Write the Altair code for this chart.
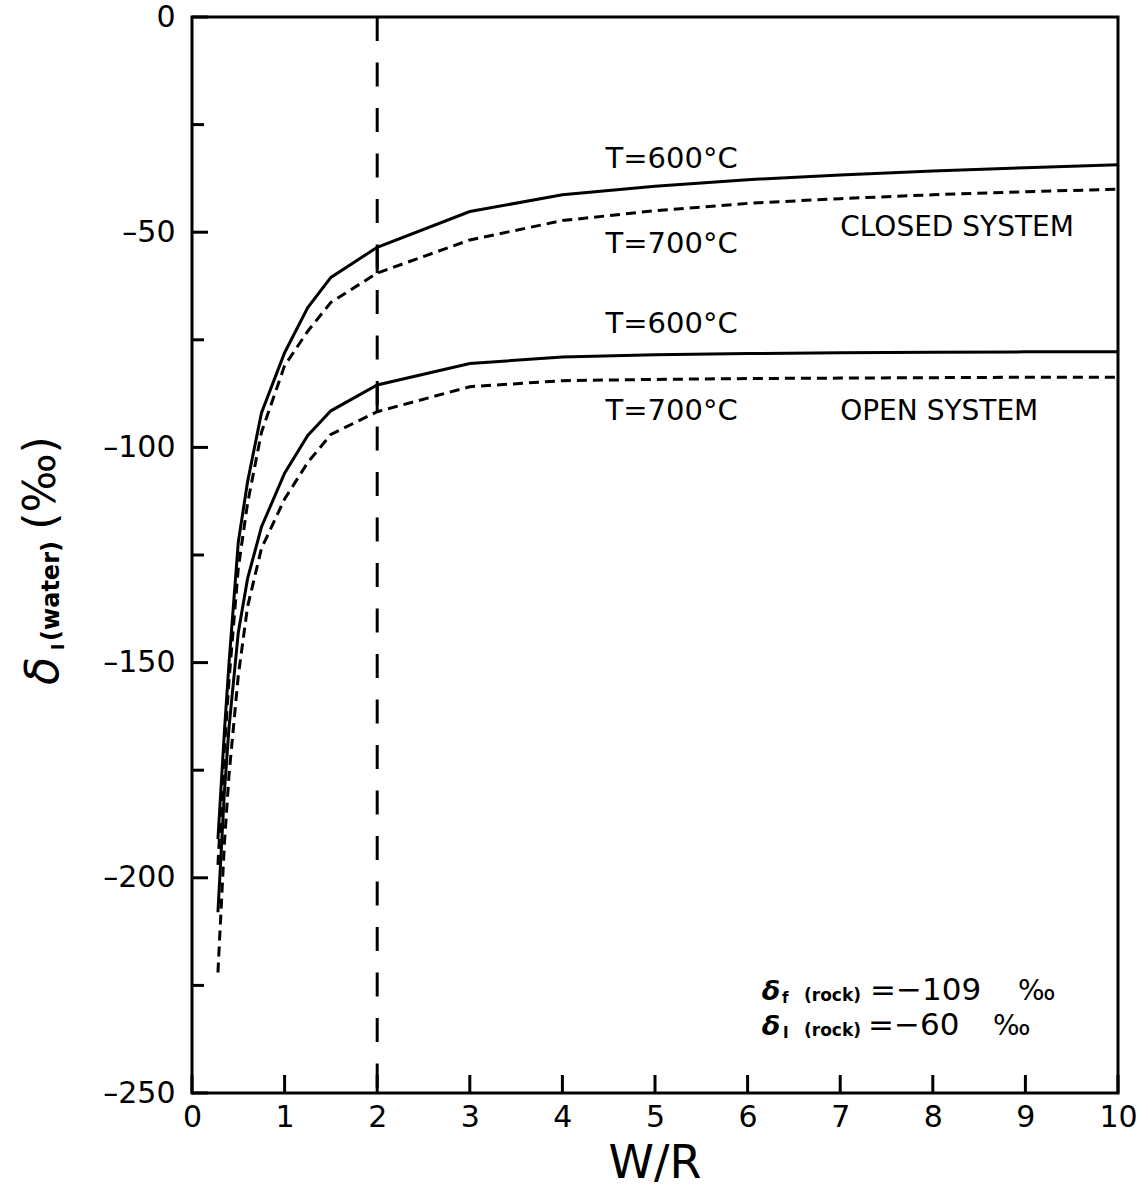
import altair as alt
import pandas as pd

# ---- data ----
wr = [0.28, 0.35, 0.4, 0.5, 0.6, 0.75, 1.0, 1.25, 1.5, 2, 3, 4, 5, 6, 7, 8, 9, 10]
closed_600 = [-191, -166, -150, -122, -108, -92, -78, -67.5, -60.5, -53.5, -45.2, -41.3, -39.3, -37.8, -36.7, -35.8, -35.0, -34.3]
closed_700 = [-197, -170, -154, -128, -113, -96.5, -81, -73, -66.3, -59.5, -51.8, -47.3, -45.0, -43.3, -42.2, -41.3, -40.6, -40.0]
open_600 = [-208, -180, -165, -143, -130.5, -118.5, -106, -97.2, -91.5, -85.5, -80.5, -79.0, -78.5, -78.2, -78.0, -77.9, -77.8, -77.8]
open_700 = [-222, -192, -176, -153, -137, -123.5, -112, -103.5, -97, -91.7, -85.9, -84.5, -84.2, -84.0, -83.9, -83.8, -83.7, -83.7]

x_ticks = [0, 1, 2, 3, 4, 5, 6, 7, 8, 9, 10]
y_major = [0, -50, -100, -150, -200, -250]
y_minor = [-25, -75, -125, -175, -225]
marker_wr = 2

temp_labels = ["T=600°C", "T=700°C", "T=600°C", "T=700°C"]
temp_label_x = [5.18, 5.18, 5.18, 5.18]
temp_label_y = [-33.0, -52.7, -71.3, -91.5]
system_labels = ["CLOSED  SYSTEM", "OPEN  SYSTEM"]
system_label_x = [7.0, 7.0]
system_label_y = [-49.0, -91.8]

FONT = "DejaVu Sans"
W, H = 926, 1076

rows = []
for name, vals in [("closed600", closed_600), ("closed700", closed_700),
                   ("open600", open_600), ("open700", open_700)]:
    for x, y in zip(wr, vals):
        rows.append({"series": name, "wr": x, "d": y})
df = pd.DataFrame(rows)

xs = alt.Scale(domain=[0, 10], nice=False, zero=False)
ys = alt.Scale(domain=[-250, 0], nice=False, zero=False)

xaxis = alt.Axis(values=x_ticks, ticks=False, tickSize=0, domain=False, grid=False,
                 labelFont=FONT, labelFontSize=30, labelColor="black", labelPadding=9,
                 labelFlush=False, labelOverlap=False, labelBound=False, title=None)
yaxis = alt.Axis(values=y_major, ticks=False, tickSize=0, domain=False, grid=False,
                 labelFont=FONT, labelFontSize=30, labelColor="black", labelPadding=17,
                 labelFlush=False, labelOverlap=False, labelBound=False, title=None,
                 labelExpr="replace(datum.label, '\u2212', '\u2013')")

X = alt.X("wr:Q", scale=xs, axis=xaxis)
Y = alt.Y("d:Q", scale=ys, axis=yaxis)

base = alt.Chart(df)
solid = base.transform_filter("indexof(datum.series, '600') >= 0").mark_line(
    color="black", strokeWidth=3).encode(x=X, y=Y, detail="series:N")
dashed = base.transform_filter("indexof(datum.series, '700') >= 0").mark_line(
    color="black", strokeWidth=3, strokeDash=[10, 6]).encode(x=X, y=Y, detail="series:N")

# vertical dashed marker at W/R = 2
vline = alt.Chart(pd.DataFrame({"wr": [marker_wr]})).mark_rule(
    color="black", strokeWidth=3, strokeDash=[24, 21.5]).encode(x=X)

# short connectors between curves at W/R = 2
i2 = wr.index(marker_wr)
conn_df = pd.DataFrame({"wr": [marker_wr, marker_wr],
                        "d": [closed_600[i2], open_600[i2]],
                        "d2": [closed_700[i2], open_700[i2]]})
conn = alt.Chart(conn_df).mark_rule(color="black", strokeWidth=3).encode(
    x=X, y=Y, y2="d2:Q")

# inward ticks
ymaj = alt.Chart(pd.DataFrame({"d": y_major})).mark_rule(color="black", strokeWidth=3).encode(
    y=Y, x=alt.value(0), x2=alt.value(16))
ymin = alt.Chart(pd.DataFrame({"d": y_minor})).mark_rule(color="black", strokeWidth=3).encode(
    y=Y, x=alt.value(0), x2=alt.value(12))
xt = alt.Chart(pd.DataFrame({"wr": x_ticks})).mark_rule(color="black", strokeWidth=3).encode(
    x=X, y=alt.value(H), y2=alt.value(H - 18))

# curve labels
tl = alt.Chart(pd.DataFrame({"wr": temp_label_x, "d": temp_label_y, "t": temp_labels})).mark_text(
    font=FONT, fontSize=29, color="black", align="center", baseline="middle").encode(
    x=X, y=Y, text="t:N")
sl = alt.Chart(pd.DataFrame({"wr": system_label_x, "d": system_label_y, "t": system_labels})).mark_text(
    font=FONT, fontSize=28, color="black", align="left", baseline="middle").encode(
    x=X, y=Y, text="t:N")


def txt(s, x, y, size, weight="normal", align="left", baseline="alphabetic", angle=0, style="normal"):
    return alt.Chart(pd.DataFrame({"t": [s]})).mark_text(
        font=FONT, fontSize=size, fontWeight=weight, fontStyle=style, color="black",
        align=align, baseline=baseline, angle=angle).encode(
        x=alt.value(x), y=alt.value(y), text="t:N")


# y-axis title pieces (rotated)
ytitle = [
    txt("(‰)", -150, 466, 44, align="center", baseline="middle", angle=270),
    txt("(water)", -140, 574, 24, weight="bold", align="center", baseline="middle", angle=270),
    txt("I", -133, 630, 18, weight="bold", align="center", baseline="middle", angle=270),
    txt("δ", -148, 654, 46, style="italic", align="center", baseline="middle", angle=270),
]
# x-axis title
xtitle = [txt("W/R", 463, 1161, 46, align="center")]

# bottom-right annotation
note = [
    txt("δ", 579, 983, 27, weight="bold", style="italic", align="center"),
    txt("f", 590, 986, 15, weight="bold"),
    txt("(rock)", 612, 984, 17, weight="bold"),
    txt("=\u2212109", 678, 983, 31),
    txt("‰", 826, 983, 28),
    txt("δ", 579, 1018, 27, weight="bold", style="italic", align="center"),
    txt("I", 591, 1021, 15, weight="bold"),
    txt("(rock)", 612, 1019, 17, weight="bold"),
    txt("=\u221260", 676, 1018, 31),
    txt("‰", 801, 1018, 28),
]

chart = alt.layer(
    vline, conn, solid, dashed, ymaj, ymin, xt, tl, sl, *ytitle, *xtitle, *note
).properties(
    width=W, height=H,
    autosize=alt.AutoSizeParams(type="none"),
    padding={"left": 192, "top": 17, "right": 30, "bottom": 97},
    background="white",
).configure_view(stroke="black", strokeWidth=3)

chart.save("out.html", embed_options={"renderer": "svg", "actions": False})
